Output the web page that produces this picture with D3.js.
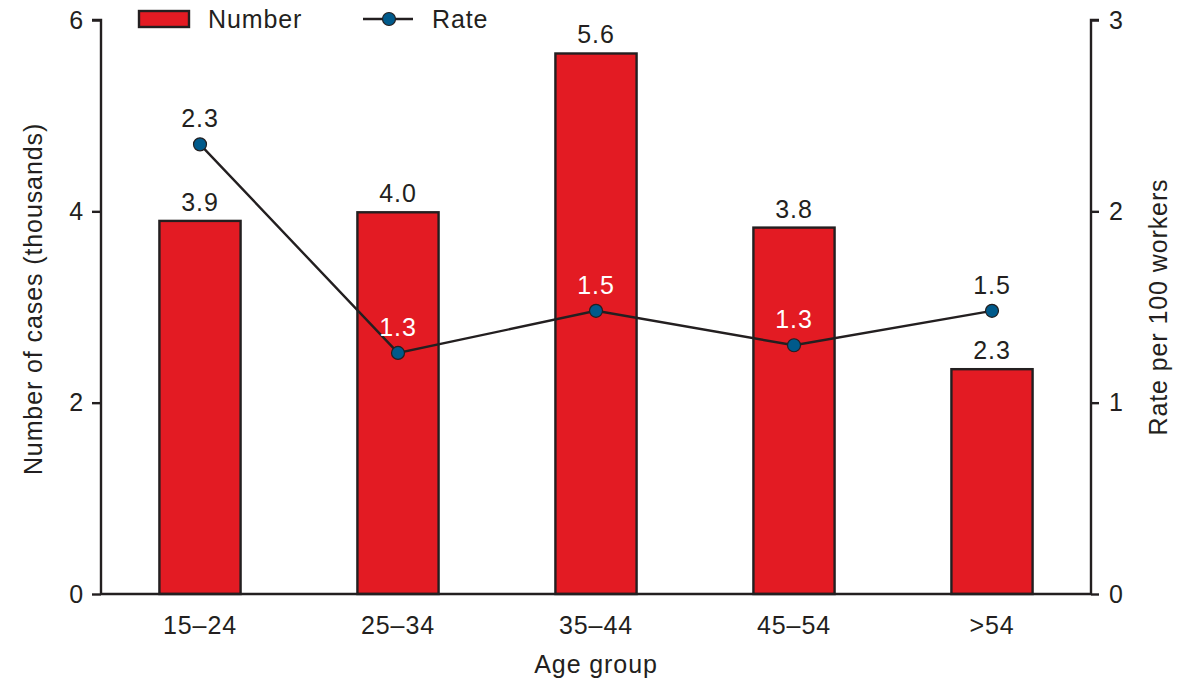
<!DOCTYPE html>
<html>
<head>
<meta charset="utf-8">
<script src="https://cdn.jsdelivr.net/npm/d3@7"></script>
<style>
  html, body { margin: 0; padding: 0; background: #fff; }
  svg text { font-family: "Liberation Sans", Arial, Helvetica, sans-serif; fill: #231f20; }
</style>
</head>
<body>
<svg id="chart" width="1186" height="684"></svg>
<script>
const categories = ["15–24", "25–34", "35–44", "45–54", ">54"];
const numberValues = [3.9, 3.99, 5.65, 3.83, 2.35];
const numberLabels = ["3.9", "4.0", "5.6", "3.8", "2.3"];
const rateValues = [2.35, 1.26, 1.48, 1.30, 1.48];
const rateLabels = ["2.3", "1.3", "1.5", "1.3", "1.5"];
const rateLabelInside = [false, true, true, true, false];
const leftTicks = [0, 2, 4, 6];
const rightTicks = [0, 1, 2, 3];

const RED = "#e31b23", BLUE = "#005a8b", DARK = "#231f20";
const FS = 25, LS = "0.9px";

const svg = d3.select("#chart");
const margin = {left: 101, right: 95, top: 20, bottom: 90};
const W = 1186, H = 684;
const x0 = margin.left, x1 = W - margin.right;
const y0 = H - margin.bottom, y1 = margin.top;

const x = d3.scaleBand().domain(categories).range([x0, x1]).paddingInner(0.59).paddingOuter(0.295);
const yL = d3.scaleLinear().domain([0, 6]).range([y0, y1]);
const yR = d3.scaleLinear().domain([0, 3]).range([y0, y1]);

// bars
svg.append("g").selectAll("rect").data(numberValues).join("rect")
  .attr("x", (d, i) => x(categories[i]))
  .attr("y", d => yL(d))
  .attr("width", x.bandwidth())
  .attr("height", d => yL(0) - yL(d))
  .attr("fill", RED).attr("stroke", DARK).attr("stroke-width", 2.4);

// bar labels
svg.append("g").selectAll("text").data(numberValues).join("text")
  .attr("x", (d, i) => x(categories[i]) + x.bandwidth() / 2)
  .attr("y", d => yL(d) - 10)
  .attr("text-anchor", "middle")
  .style("font-size", FS + "px").style("letter-spacing", LS)
  .text((d, i) => numberLabels[i]);

// axes
const axL = svg.append("g").attr("transform", `translate(${x0},0)`)
  .call(d3.axisLeft(yL).tickValues(leftTicks).tickFormat(d3.format("d")).tickSize(9).tickPadding(8));
const axR = svg.append("g").attr("transform", `translate(${x1},0)`)
  .call(d3.axisRight(yR).tickValues(rightTicks).tickFormat(d3.format("d")).tickSize(8).tickPadding(10));
const axB = svg.append("g").attr("transform", `translate(0,${y0})`)
  .call(d3.axisBottom(x).tickSize(0).tickPadding(22));
[axL, axR, axB].forEach(g => {
  g.select(".domain").attr("stroke", DARK).attr("stroke-width", 2.4);
  g.selectAll(".tick line").attr("stroke", DARK).attr("stroke-width", 2.4);
  g.selectAll(".tick text").style("font-size", FS + "px").style("letter-spacing", LS)
    .attr("fill", DARK).style("font-family", '"Liberation Sans", Arial, sans-serif');
});
axL.select(".domain").attr("d", `M-9,${y1}H0V${y0}`);
axR.select(".domain").attr("d", `M8,${y1}H0V${y0}`);
axB.select(".domain").attr("d", `M${x0},0H${x1}`);

// rate line
const line = d3.line().x((d, i) => x(categories[i]) + x.bandwidth() / 2).y(d => yR(d));
svg.append("path").datum(rateValues).attr("d", line)
  .attr("fill", "none").attr("stroke", DARK).attr("stroke-width", 2.4);
svg.append("g").selectAll("circle").data(rateValues).join("circle")
  .attr("cx", (d, i) => x(categories[i]) + x.bandwidth() / 2)
  .attr("cy", d => yR(d)).attr("r", 6.5)
  .attr("fill", BLUE).attr("stroke", DARK).attr("stroke-width", 1.2);
svg.append("g").selectAll("text").data(rateValues).join("text")
  .attr("x", (d, i) => x(categories[i]) + x.bandwidth() / 2)
  .attr("y", d => yR(d) - 17)
  .attr("text-anchor", "middle")
  .style("font-size", FS + "px").style("letter-spacing", LS)
  .style("fill", (d, i) => rateLabelInside[i] ? "#fff" : DARK)
  .text((d, i) => rateLabels[i]);

// axis titles
svg.append("text").attr("transform", `translate(42,${(y0 + y1) / 2 - 8}) rotate(-90)`)
  .attr("text-anchor", "middle").style("font-size", FS + "px").style("letter-spacing", LS)
  .text("Number of cases (thousands)");
svg.append("text").attr("transform", `translate(1167,${(y0 + y1) / 2}) rotate(-90)`)
  .attr("text-anchor", "middle").style("font-size", FS + "px").style("letter-spacing", LS)
  .text("Rate per 100 workers");
svg.append("text").attr("x", (x0 + x1) / 2).attr("y", 673)
  .attr("text-anchor", "middle").style("font-size", FS + "px").style("letter-spacing", LS)
  .text("Age group");

// legend
const lg = svg.append("g");
lg.append("rect").attr("x", 139).attr("y", 11).attr("width", 50).attr("height", 16)
  .attr("fill", RED).attr("stroke", DARK).attr("stroke-width", 2.4);
lg.append("text").attr("x", 208).attr("y", 28).style("font-size", FS + "px").style("letter-spacing", LS).text("Number");
lg.append("line").attr("x1", 363).attr("x2", 413).attr("y1", 19).attr("y2", 19)
  .attr("stroke", DARK).attr("stroke-width", 2.4);
lg.append("circle").attr("cx", 389).attr("cy", 19).attr("r", 6.5)
  .attr("fill", BLUE).attr("stroke", DARK).attr("stroke-width", 1.2);
lg.append("text").attr("x", 432).attr("y", 28).style("font-size", FS + "px").style("letter-spacing", LS).text("Rate");
</script>
</body>
</html>
